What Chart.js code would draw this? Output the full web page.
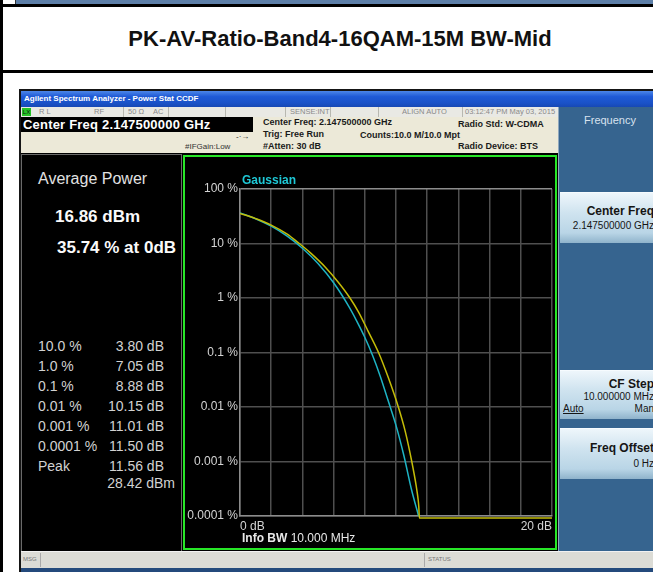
<!DOCTYPE html>
<html><head><meta charset="utf-8">
<script src="https://cdn.jsdelivr.net/npm/chart.js@4.4.1/dist/chart.umd.min.js"></script>
<style>
html,body{margin:0;padding:0;}
body{width:653px;height:572px;overflow:hidden;position:relative;background:#fff;font-family:"Liberation Sans",Arial,sans-serif;}
.a{position:absolute;white-space:nowrap;}
.st{position:absolute;top:107px;height:10px;line-height:10px;font-size:7.5px;color:#8a8a8a;white-space:nowrap;}
.sep{position:absolute;top:107px;width:1px;height:10px;background:#b8b8b0;}
.bg{font-size:9px;font-weight:bold;color:#1a1a1a;height:11px;line-height:11px;}
.lp{font-size:14px;color:#d2d2d2;height:16px;line-height:16px;}
.sk{position:absolute;left:560px;width:105px;background:linear-gradient(#eef6fb,#cfe3ef 40%,#b9d5e6 80%,#8fb3cb);border-top:1px solid #f6fbfe;}
.skt{position:absolute;right:11px;font-size:12px;font-weight:bold;color:#151515;white-space:nowrap;}
.skv{position:absolute;right:11px;font-size:10px;color:#151515;white-space:nowrap;}
</style></head><body>
<!-- document frame -->
<div class="a" style="left:15px;top:0;width:660px;height:4px;background:#5d7fa8;border-left:1px solid #333;"></div>
<div class="a" style="left:0;top:4px;width:653px;height:3px;background:#000;"></div>
<div class="a" style="left:0;top:70px;width:653px;height:3px;background:#000;"></div>
<div class="a" style="left:0;top:0;width:3px;height:572px;background:#000;"></div>
<div class="a" style="left:3px;top:7px;width:674px;height:63px;line-height:63px;text-align:center;font-size:22px;font-weight:bold;color:#111;">PK-AV-Ratio-Band4-16QAM-15M BW-Mid</div>

<!-- screenshot frame -->
<div class="a" style="left:19px;top:89px;width:640px;height:2px;background:#151515;"></div>
<div class="a" style="left:19px;top:89px;width:2px;height:483px;background:#151515;"></div>
<div class="a" style="left:21px;top:91px;width:640px;height:16px;background:linear-gradient(#4c86e8,#1f5ad6 35%,#1a52c8 75%,#1748b4);"></div>
<div class="a" style="left:24px;top:91px;height:16px;line-height:16px;font-size:8px;font-weight:bold;color:#fff;">Agilent Spectrum Analyzer - Power Stat CCDF</div>

<!-- status row -->
<div class="a" style="left:21px;top:107px;width:537px;height:10px;background:#e9e9e4;"></div>
<div class="a" style="left:22px;top:108px;width:9px;height:8px;background:#27c427;font-size:6px;line-height:8px;color:#111;text-align:center;">LX</div>
<span class="st" style="left:39px;">R L</span>
<span class="st" style="left:94px;">RF</span>
<div class="sep" style="left:123px;"></div>
<span class="st" style="left:128px;">50 Ω</span>
<span class="st" style="left:153px;">AC</span>
<div class="sep" style="left:168px;"></div>
<div class="sep" style="left:225px;"></div>
<div class="sep" style="left:285px;"></div>
<span class="st" style="left:290px;">SENSE:INT</span>
<div class="sep" style="left:330px;"></div>
<div class="sep" style="left:378px;"></div>
<span class="st" style="left:402px;">ALIGN AUTO</span>
<div class="sep" style="left:462px;"></div>
<span class="st" style="left:465px;">03:12:47 PM May 03, 2015</span>

<!-- info area -->
<div class="a" style="left:21px;top:117px;width:537px;height:36px;background:#ece9d8;"></div>
<div class="a" style="left:21px;top:117px;width:232px;height:15px;background:#000;"></div>
<div class="a" style="left:23px;top:117px;height:15px;line-height:15px;font-size:13px;font-weight:bold;color:#fff;letter-spacing:0.2px;">Center Freq 2.147500000 GHz</div>
<div class="a bg" style="left:263px;top:116.5px;">Center Freq: 2.147500000 GHz</div>
<div class="a bg" style="left:263px;top:129px;">Trig: Free Run</div>
<div class="a bg" style="left:263px;top:140.5px;">#Atten: 30 dB</div>
<div class="a bg" style="left:360px;top:129.5px;">Counts:10.0 M/10.0 Mpt</div>
<div class="a bg" style="left:458px;top:118.5px;">Radio Std: W-CDMA</div>
<div class="a bg" style="left:458px;top:140.5px;">Radio Device: BTS</div>
<div class="a" style="left:185px;top:142px;height:10px;line-height:10px;font-size:8px;color:#333;">#IFGain:Low</div>
<div class="a" style="left:236px;top:131px;height:11px;line-height:11px;font-size:8px;color:#222;">-·→</div>

<!-- black display area -->
<div class="a" style="left:21px;top:153px;width:537px;height:398px;background:#000;"></div>
<div class="a" style="left:21px;top:154px;width:159px;height:396px;border:1px solid #6a6a6a;"></div>

<!-- left readout panel -->
<div class="a" style="left:38px;top:171px;font-size:16px;line-height:16px;color:#e2e2e2;">Average Power</div>
<div class="a" style="left:55px;top:208px;font-size:17px;line-height:18px;font-weight:bold;color:#fafafa;">16.86 dBm</div>
<div class="a" style="left:57px;top:239px;font-size:17px;line-height:18px;font-weight:bold;color:#fafafa;">35.74 % at 0dB</div>
<div id="stats"></div>

<!-- graph frame -->
<div class="a" style="left:183px;top:155px;width:374px;height:395px;box-sizing:border-box;border:2px solid #27e627;"></div>
<canvas id="c" width="370" height="391" style="position:absolute;left:185px;top:157px;"></canvas>
<div class="a" style="left:242px;top:173px;height:14px;line-height:14px;font-size:12px;font-weight:bold;color:#1ec8d6;">Gaussian</div>
<div class="a" style="left:242px;top:531px;height:14px;line-height:14px;font-size:12px;color:#e8e8e8;"><b>Info BW</b> 10.000 MHz</div>

<!-- right softkey panel -->
<div class="a" style="left:558px;top:107px;width:110px;height:444px;background:#36648f;border-left:1px solid #8fa7bd;"></div>
<div class="a" style="left:560px;top:113px;width:100px;text-align:center;font-size:11px;line-height:14px;color:#d8e2ee;">Frequency</div>
<div class="sk" style="top:192px;height:50px;"><span class="skt" style="top:11px;">Center Freq</span><span class="skv" style="top:27px;">2.147500000 GHz</span></div>
<div class="sk" style="top:370px;height:48px;"><span class="skt" style="top:6px;">CF Step</span><span class="skv" style="top:20px;">10.000000 MHz</span><span class="skv" style="left:3px;right:auto;top:32px;text-decoration:underline;">Auto</span><span class="skv" style="top:32px;">Man</span></div>
<div class="sk" style="top:428px;height:50px;"><span class="skt" style="top:12px;">Freq Offset</span><span class="skv" style="top:29px;">0 Hz</span></div>

<!-- bottom status bar -->
<div class="a" style="left:21px;top:551px;width:640px;height:17px;background:#dcdcd6;border-top:1px solid #f2f2f2;"></div>
<div class="a" style="left:40px;top:553px;width:1px;height:14px;background:#aaa;"></div>
<div class="a" style="left:424px;top:553px;width:1px;height:14px;background:#aaa;"></div>
<div class="a" style="left:23px;top:555px;font-size:6px;line-height:9px;color:#777;">MSG</div>
<div class="a" style="left:428px;top:555px;font-size:6px;line-height:9px;color:#777;">STATUS</div>
<div class="a" style="left:21px;top:568px;width:640px;height:4px;background:#244a7c;"></div>

<script>
// readout table
const statLevels = ['10.0 %','1.0 %','0.1 %','0.01 %','0.001 %','0.0001 %','Peak'];
const statValues = ['3.80 dB','7.05 dB','8.88 dB','10.15 dB','11.01 dB','11.50 dB','11.56 dB'];
const peakPower = '28.42 dBm';

// chart axes
const xGridDb = [0,2,4,6,8,10,12,14,16,18,20];
const xTickLabels = ['0 dB','','','','','','','','','','20 dB'];
const yTickPct = [0.0001,0.001,0.01,0.1,1,10,100];
const yTickLabels = ['0.0001 %','0.001 %','0.01 %','0.1 %','1 %','10 %','100 %'];

// measured CCDF (yellow)
const measuredDb  = [0, 1, 2, 3, 3.8, 4.5, 5.5, 6.3, 7.05, 7.6, 8.2, 8.88, 9.5, 10.15, 10.6, 11.01, 11.3, 11.42, 11.46, 11.5, 20];
const measuredPct = [35.74, 28.6, 21.8, 15.0, 10.0, 6.8, 3.6, 1.95, 1.0, 0.55, 0.25, 0.1, 0.035, 0.01, 0.0035, 0.001, 0.00035, 0.0002, 0.00015, 0.0000918, 0.0000918];

// Gaussian reference (cyan)
const gaussianDb  = [0, 1, 2, 3, 4, 5, 6, 7, 7.5, 8, 8.5, 9, 9.5, 10, 10.5, 11, 11.45];
const gaussianPct = [36.5, 28.5, 20.8, 13.8, 8.2, 4.3, 1.9, 0.68, 0.37, 0.19, 0.088, 0.036, 0.013, 0.0046, 0.0013, 0.0003, 0.0001];

const stats = document.getElementById('stats');
statLevels.forEach((lv, i) => {
  const cy = 346 + i * 20;
  stats.insertAdjacentHTML('beforeend',
    `<div class="a lp" style="left:38px;top:${cy-8}px;">${lv}</div>` +
    `<div class="a lp" style="right:${653-164}px;top:${cy-8}px;">${statValues[i]}</div>`);
});
stats.insertAdjacentHTML('beforeend', `<div class="a lp" style="right:${653-175}px;top:475px;">${peakPower}</div>`);

const frame = '#8c8c8c', inner = '#4f4f4f';
new Chart(document.getElementById('c'), {
  type: 'line',
  data: {
    datasets: [
      { label: 'Measured', data: measuredDb.map((x, i) => ({ x, y: measuredPct[i] })),
        borderColor: '#c4bc08', borderWidth: 1.5, pointRadius: 0, cubicInterpolationMode: 'monotone',
        clip: { left: 0, top: 0, right: 0, bottom: 5 } },
      { label: 'Gaussian', data: gaussianDb.map((x, i) => ({ x, y: gaussianPct[i] })),
        borderColor: '#1eb4c4', borderWidth: 1.5, pointRadius: 0, cubicInterpolationMode: 'monotone',
        clip: { left: 0, top: 0, right: 0, bottom: 5 } }
    ]
  },
  options: {
    responsive: false, animation: false, devicePixelRatio: 1,
    layout: { padding: { top: 32, right: 2, left: 0, bottom: 0 } },
    plugins: { legend: { display: false }, tooltip: { enabled: false }, title: { display: false } },
    scales: {
      x: {
        type: 'linear', min: 0, max: 20,
        afterBuildTicks: s => { s.ticks = xGridDb.map(v => ({ value: v })); },
        afterFit: s => { s.height = 32; },
        ticks: { autoSkip: false, maxRotation: 0, align: 'inner', padding: 3,
          color: '#d4d4d4', font: { family: 'Liberation Sans', size: 12 },
          callback: (v, i) => xTickLabels[i] },
        grid: { drawTicks: false, lineWidth: 1.5, color: ctx => inner },
        border: { color: frame, width: 1.5 }
      },
      y: {
        type: 'logarithmic', min: 0.0001, max: 100,
        afterBuildTicks: s => { s.ticks = yTickPct.map(v => ({ value: v })); },
        afterFit: s => { s.width = 55; },
        ticks: { padding: 2, color: '#d4d4d4', font: { family: 'Liberation Sans', size: 12 },
          callback: (v, i) => yTickLabels[i] },
        grid: { drawTicks: false, lineWidth: 1.5,
          color: ctx => (ctx.tick && ctx.tick.value === 100) ? frame : inner },
        border: { color: frame, width: 1.5 }
      }
    }
  }
});
</script>
</body></html>
